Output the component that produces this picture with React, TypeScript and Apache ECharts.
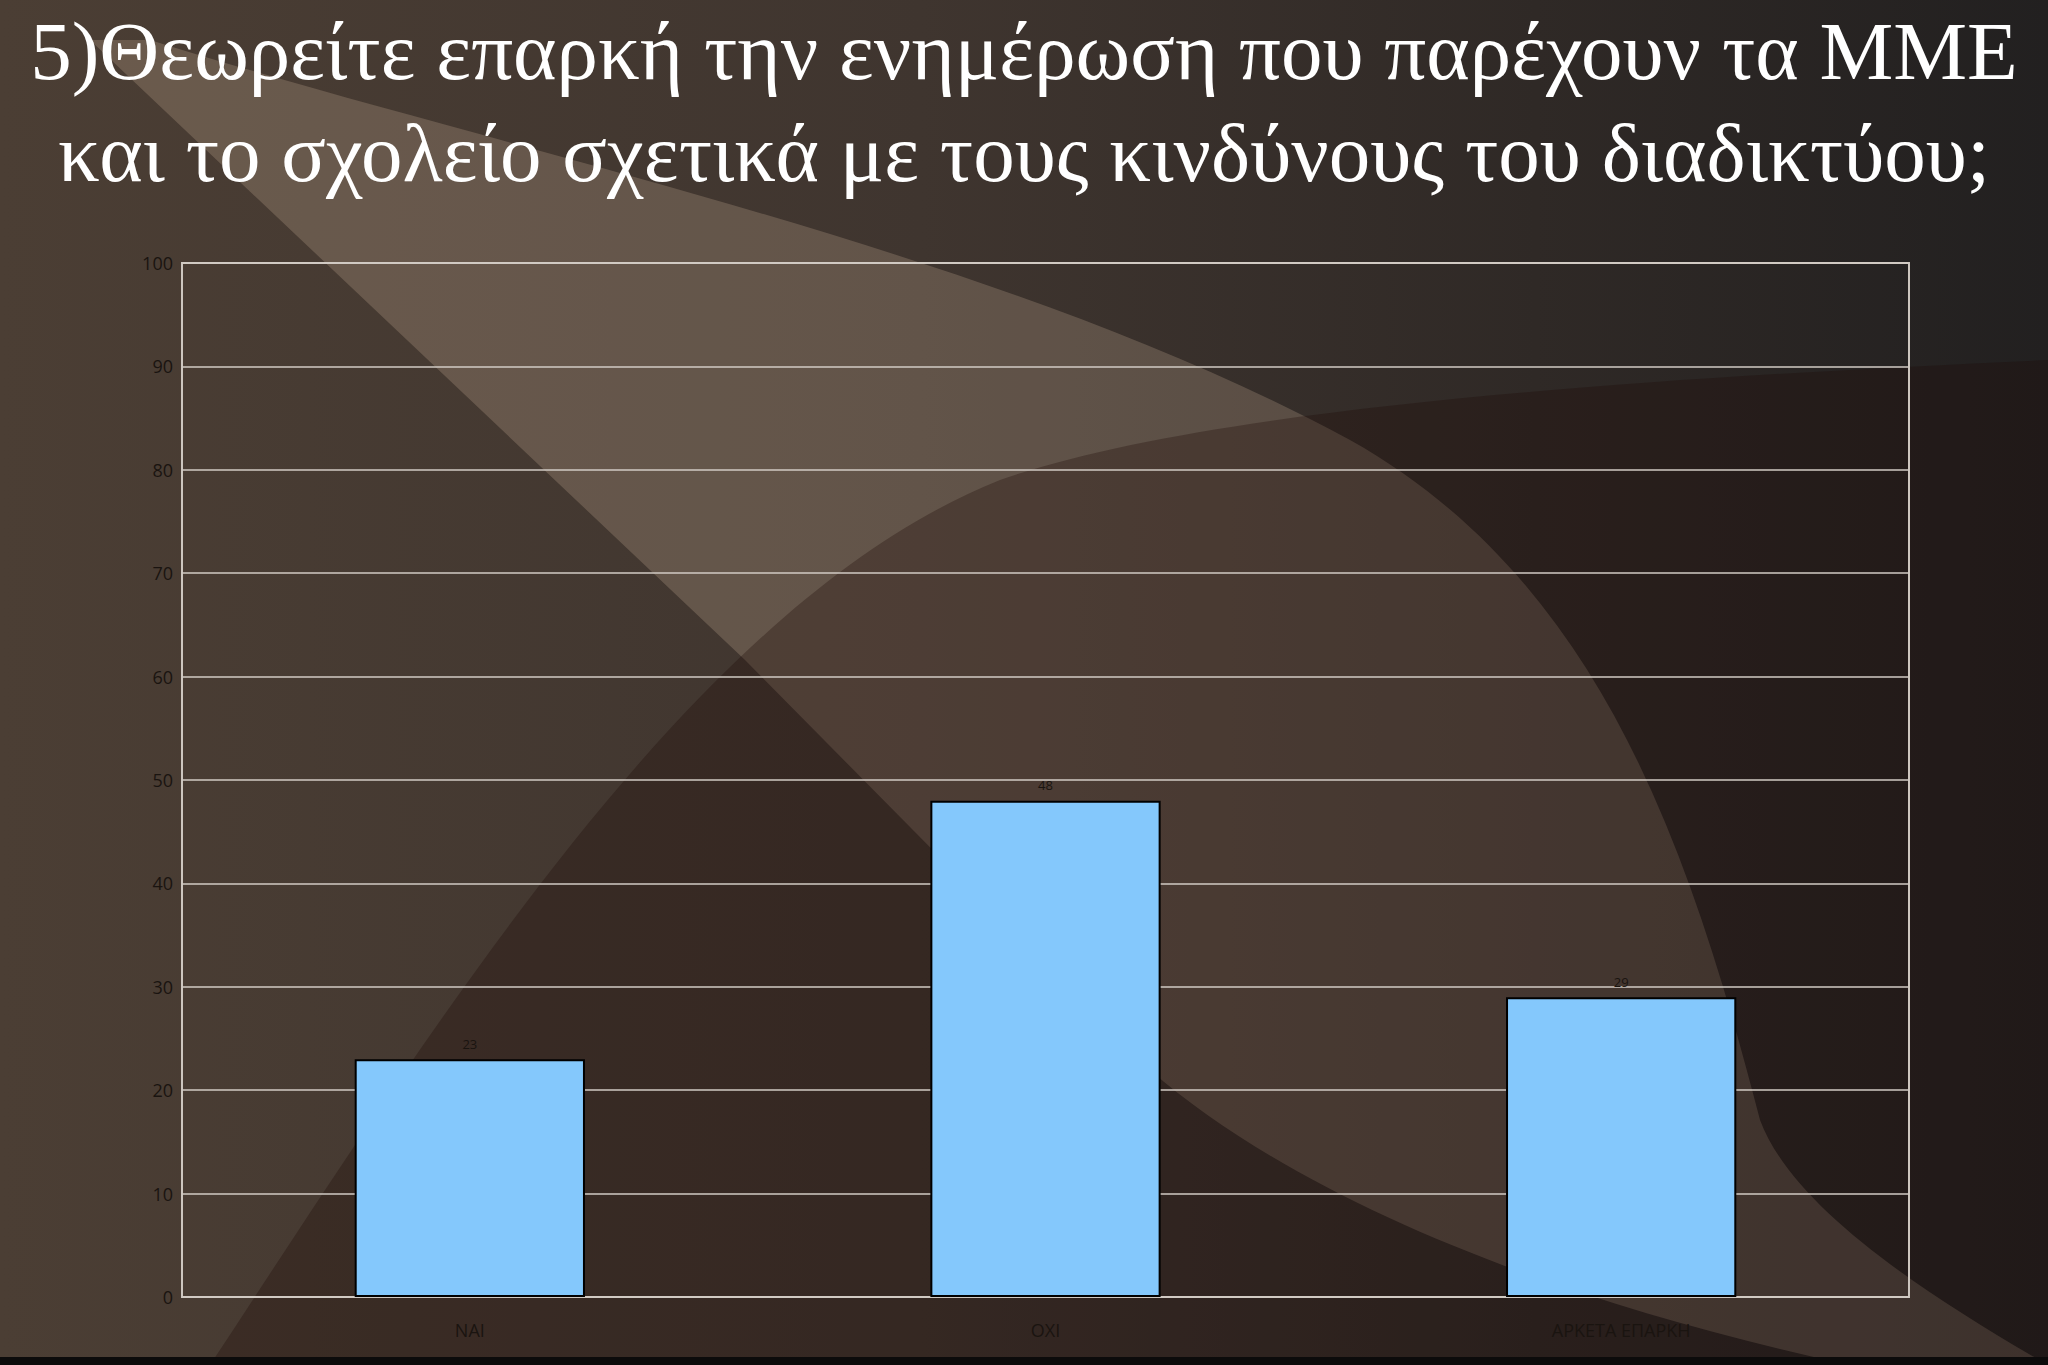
import React, { useEffect, useRef } from "react";
import * as echarts from "echarts";

const categories: string[] = ["ΝΑΙ", "ΟΧΙ", "ΑΡΚΕΤΑ ΕΠΑΡΚΗ"];
const values: number[] = [23, 48, 29];
const yTicks: number[] = [0, 10, 20, 30, 40, 50, 60, 70, 80, 90, 100];
const titleLines: string[] = [
  "5)Θεωρείτε επαρκή την ενημέρωση που παρέχουν τα ΜΜΕ",
  "και το σχολείο σχετικά με τους κινδύνους του διαδικτύου;",
];

const S1 =
  "M 150 40 C 500 150, 1000 250, 1350 440 C 1600 580, 1690 850, 1760 1120 C 1790 1200, 1900 1280, 2048 1365 L 1850 1365 C 1550 1300, 1300 1200, 1150 1070 L 745 660 L 90 40 Z";
const S2 =
  "M 210 1365 C 450 1000, 700 600, 1000 480 C 1200 410, 1600 380, 2048 360 L 2048 1365 Z";

let registered = false;
function registerShapes() {
  if (registered) return;
  registered = true;
  echarts.graphic.registerShape("bgBand", echarts.graphic.extendPath(S1, {}) as any);
  echarts.graphic.registerShape("bgLower", echarts.graphic.extendPath(S2, {}) as any);
}

export default function App() {
  const ref = useRef<HTMLDivElement>(null);
  useEffect(() => {
    if (!ref.current) return;
    registerShapes();
    const chart = echarts.init(ref.current, undefined, { renderer: "svg" });
    chart.setOption({
      animation: false,
      backgroundColor: "#2e2724",
      title: {
        text: titleLines.join("\n"),
        left: "center",
        top: 0,
        padding: 0,
        textStyle: {
          color: "#ffffff",
          fontFamily: "Liberation Serif",
          fontWeight: "normal",
          fontSize: 83,
          lineHeight: 102,
        },
      },
      graphic: [
        {
          type: "rect",
          z: -100,
          silent: true,
          shape: { x: 0, y: 0, width: 2048, height: 1365 },
          style: {
            fill: {
              type: "linear",
              x: 0,
              y: 0,
              x2: 1,
              y2: 0,
              colorStops: [
                { offset: 0, color: "#4b3e34" },
                { offset: 0.45, color: "#3f352f" },
                { offset: 0.75, color: "#2f2926" },
                { offset: 1, color: "#222020" },
              ],
            },
          },
        },
        {
          type: "bgBand",
          z: -99,
          silent: true,
          x: 0,
          y: 0,
          style: { fill: "rgba(240,210,180,0.2)" },
        },
        {
          type: "bgLower",
          z: -98,
          silent: true,
          x: 0,
          y: 0,
          style: { fill: "rgba(30,10,5,0.3)" },
        },
        {
          type: "rect",
          z: -97,
          silent: true,
          shape: { x: 0, y: 1357, width: 2048, height: 8 },
          style: { fill: "#0c0b0b" },
        },
      ],
      grid: {
        left: 182,
        right: 139,
        top: 263,
        bottom: 68,
        show: true,
        backgroundColor: "transparent",
        borderColor: "#cdc6bf",
        borderWidth: 2,
      },
      xAxis: {
        type: "category",
        data: categories,
        axisLine: { show: false },
        axisTick: { show: false },
        axisLabel: {
          color: "#1a1410",
          fontFamily: "Open Sans",
          fontSize: 18,
          margin: 24,
        },
      },
      yAxis: {
        type: "value",
        min: yTicks[0],
        max: yTicks[yTicks.length - 1],
        interval: 10,
        axisLine: { show: false },
        axisTick: { show: false },
        axisLabel: {
          color: "#1a1410",
          fontFamily: "Open Sans",
          fontSize: 18,
          margin: 9,
        },
        splitLine: { lineStyle: { color: "#d2cbc4", width: 1.5 } },
      },
      series: [
        {
          type: "bar",
          data: values,
          barWidth: "40%",
          itemStyle: { color: "#84c8fc", borderColor: "#000000", borderWidth: 2 },
          label: {
            show: true,
            position: "top",
            distance: 9,
            color: "#1a1410",
            fontFamily: "Open Sans",
            fontSize: 13,
          },
        },
      ],
    });
    return () => chart.dispose();
  }, []);
  return (
    <div
      ref={ref}
      style={{ position: "absolute", left: 0, top: 0, width: 2048, height: 1365 }}
    />
  );
}
